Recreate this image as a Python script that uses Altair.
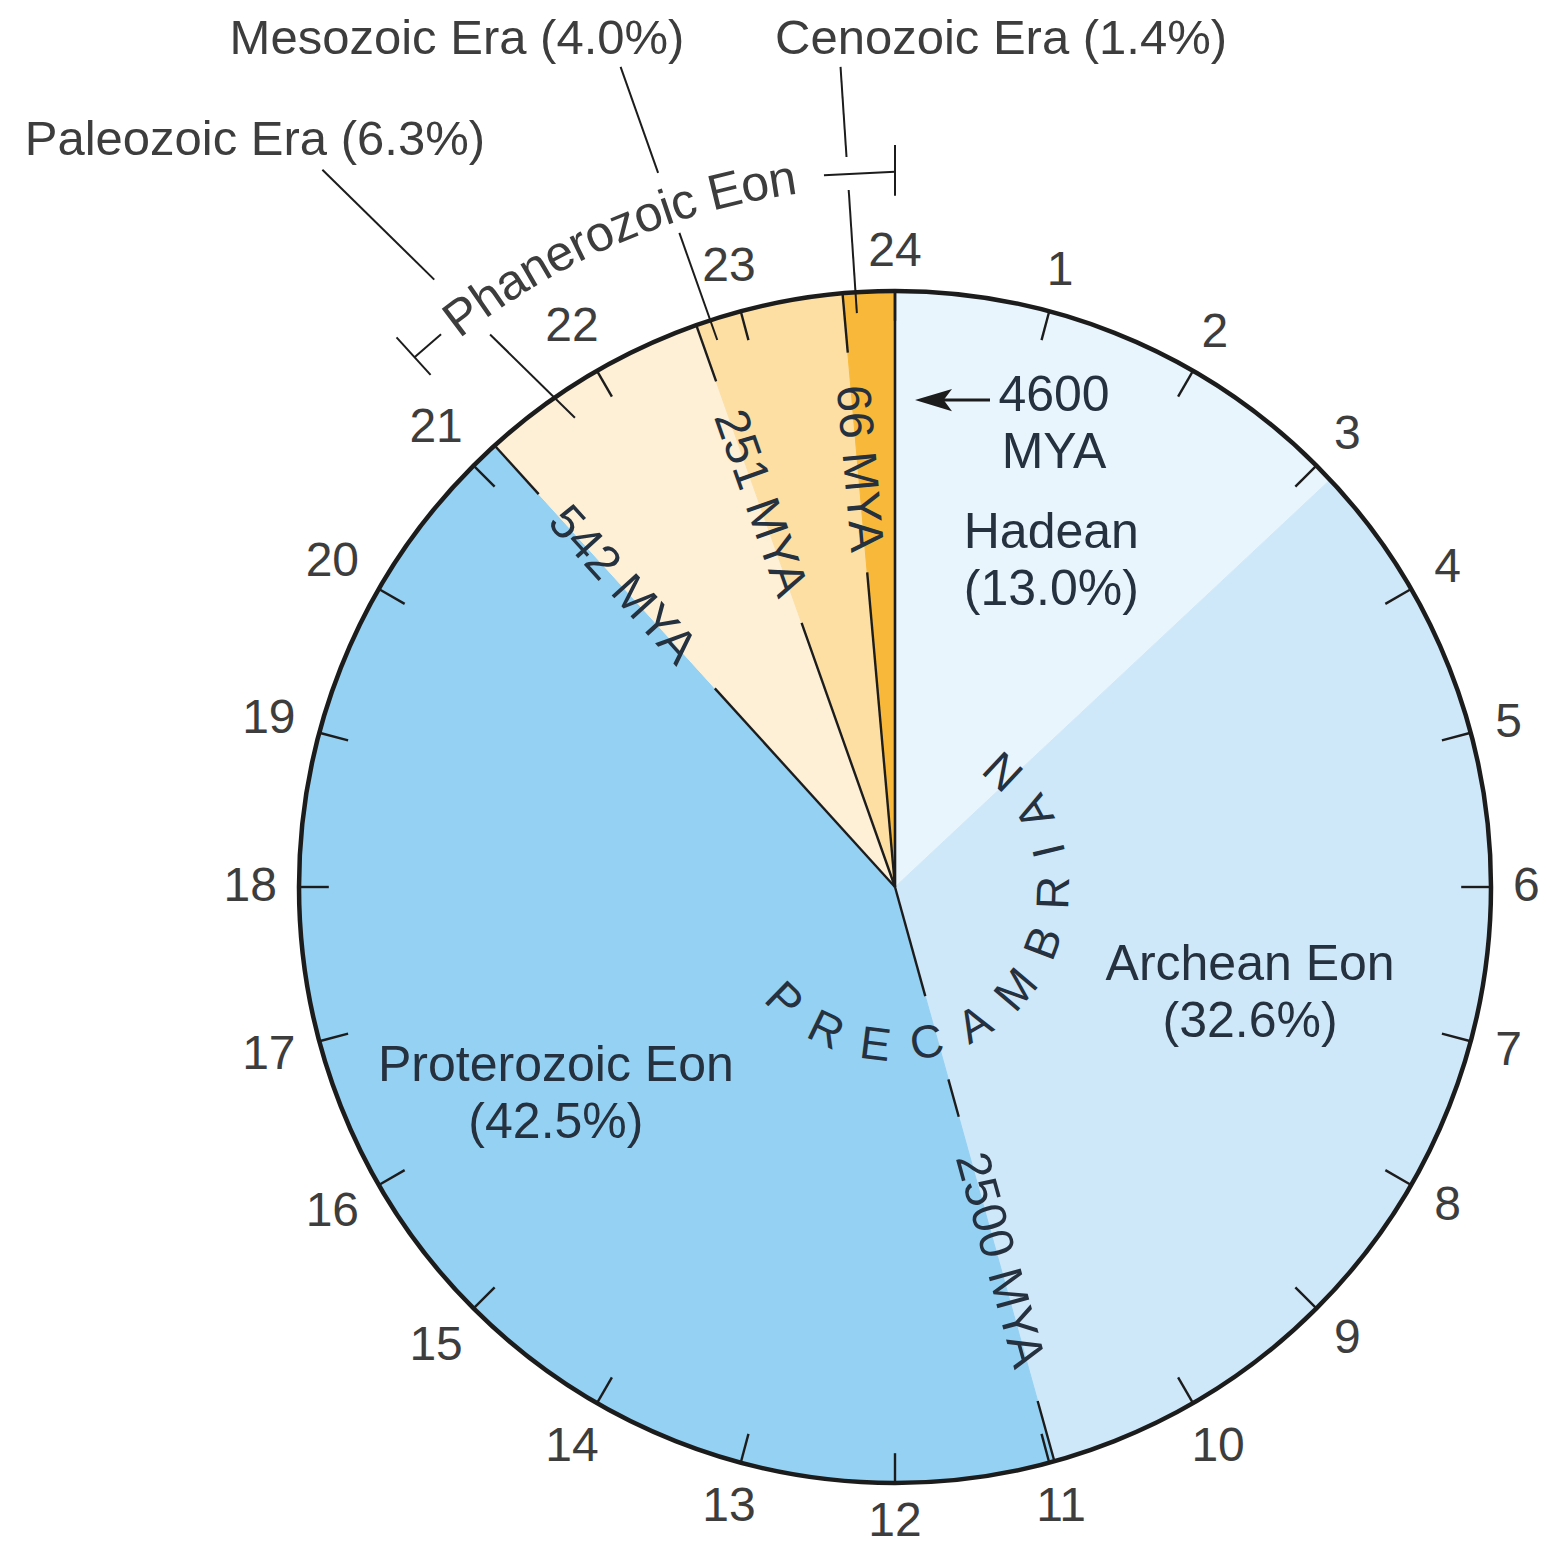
import math
import altair as alt
import pandas as pd

# ---------------- data ----------------
era_names = ["Hadean", "Archean Eon", "Proterozoic Eon", "Paleozoic Era", "Mesozoic Era", "Cenozoic Era"]
era_pcts = [13.0, 32.6, 42.5, 6.3, 4.0, 1.4]
era_colors = ["#e9f5fd", "#cfe8f9", "#95d1f3", "#fdf0d6", "#fddfa4", "#f8b93a"]
start_mya = 4600
boundary_mya = [2500, 542, 251, 66]   # ends of Archean, Proterozoic, Paleozoic, Mesozoic
hour_labels = [str(h) for h in range(1, 25)]
phanerozoic_label = "Phanerozoic Eon"
precambrian_label = "PRECAMBRIAN"

# ---------------- layout ----------------
PLOT_W, PLOT_H = 1534, 1532
R = 596.0
CX, CY = 887.0, 879.0
XMIN, XMAX = -CX / R, (PLOT_W - CX) / R
YMIN, YMAX = -(PLOT_H - CY) / R, CY / R
FONT = "Liberation Sans"
TXT_OUT = "#3d3d3d"
TXT_IN = "#25313e"
LINE = "#1c1c1c"
LH = 57  # line height of two-line labels, px

XS = alt.Scale(domain=[XMIN, XMAX], nice=False, zero=False)
YS = alt.Scale(domain=[YMIN, YMAX], nice=False, zero=False)


def pol(th, r):
    a = math.radians(th)
    return (r * math.sin(a), r * math.cos(a))


total = sum(era_pcts)
bounds = [0.0]
acc = 0.0
for p in era_pcts:
    acc += p
    bounds.append(acc / total * 360.0)

# ---------------- line segments ----------------
seg_rows = []


def add_seg(p0, p1, w):
    seg_rows.append(dict(x=p0[0], y=p0[1], x2=p1[0], y2=p1[1], w=w))


# top boundary (start of time)
add_seg(pol(0, 0), pol(0, 1), 2.6)
# labelled boundaries, interrupted where their labels sit
radial_pieces = [
    [(0, 0.19), (0.335, 0.40), (0.895, 1.0)],
    [(0, 0.45), (0.89, 1.0)],
    [(0, 0.47), (0.90, 1.0)],
    [(0, 0.53), (0.90, 1.0)],
]
for i, pcs in enumerate(radial_pieces):
    th = bounds[i + 2]
    for r0, r1 in pcs:
        add_seg(pol(th, r0), pol(th, r1), 2.4)

# hour ticks
for h in range(1, 25):
    add_seg(pol(15 * h, 0.95), pol(15 * h, 1.0), 2.4)

# leader lines from outer era labels
leaders = {
    3: ((321.4, 1.54), (325.7, 0.953), (0.443, 0.664)),
    4: ((341.5, 1.451), (342.0, 0.965), (0.388, 0.608)),
    5: ((356.2, 1.379), (356.2, 0.965), (0.366, 0.50)),
}
for k, (a0, a1, gap) in leaders.items():
    p0 = pol(*a0)
    p1 = pol(*a1)

    def lerp(t):
        return (p0[0] + t * (p1[0] - p0[0]), p0[1] + t * (p1[1] - p0[1]))

    add_seg(p0, lerp(gap[0]), 2.0)
    add_seg(lerp(gap[1]), p1, 2.0)

# Phanerozoic bracket
RB = 1.2
th_l = bounds[3]
add_seg(pol(th_l, 1.16), pol(th_l, 1.245), 2.0)
add_seg(pol(th_l, RB), pol(320.6, RB), 2.0)
add_seg(pol(354.3, RB), pol(360, RB), 2.0)
add_seg(pol(360, 1.16), pol(360, 1.245), 2.0)

# arrow to the start of time
ARROW_Y = 0.817
add_seg((0.080, ARROW_Y), (0.1594, ARROW_Y), 3.0)
df_head = pd.DataFrame({"x": [0.0646], "y": [ARROW_Y]})

df_seg = pd.DataFrame(seg_rows)

# ---------------- texts ----------------
txt = []


def add_txt(x, y, t, fs, c, a=0.0):
    # anchor multi-line blocks at their vertical middle
    n = t.count("\n") + 1
    y = y + (n - 1) / 2 * LH / R
    txt.append(dict(x=x, y=y, t=t, fs=fs, c=c, a=a % 360))


# labels inside slices
inside_pos = {0: (2.2, 0.606), 1: (1.0, 0.622), 2: (-2.6, 0.667)}
for i, (dth, r) in inside_pos.items():
    mid = (bounds[i] + bounds[i + 1]) / 2 + dth
    x, y = pol(mid, r)
    add_txt(x, y, f"{era_names[i]}\n({era_pcts[i]:.1f}%)", 50, TXT_IN)

# outer era labels
outer_pos = {3: (-1.074, 1.2534), 4: (-0.7349, 1.4225), 5: (0.1779, 1.4225)}
for i, (x, y) in outer_pos.items():
    add_txt(x, y, f"{era_names[i]} ({era_pcts[i]:.1f}%)", 49, TXT_OUT)

# start label
add_txt(0.2668, 0.776, f"{start_mya}\nMYA", 50, TXT_IN)

# hour labels
HFS = 48
for h, s in zip(range(1, 25), hour_labels):
    th = 15 * h
    a = math.radians(th)
    w = len(s) * 0.556 * HFS
    hh = 0.716 * HFS
    rpx = R + 22 + 0.5 * (abs(math.sin(a)) * w + abs(math.cos(a)) * hh)
    x, y = pol(th, rpx / R)
    add_txt(x, y, s, HFS, TXT_OUT)

# curved "Phanerozoic Eon"
wtab = {"P": .667, "h": .556, "a": .556, "n": .556, "e": .556, "r": .333, "o": .556,
        "z": .5, "i": .222, "c": .5, " ": .278, "E": .667}
PFS = 50
rpx = RB * R
tot_w = sum(wtab[ch] for ch in phanerozoic_label) * PFS
start = 336.8 - math.degrees(tot_w / 2 / rpx)
cum = 0.0
for ch in phanerozoic_label:
    w = wtab[ch] * PFS
    th = start + math.degrees((cum + w / 2) / rpx)
    cum += w
    if ch != " ":
        x, y = pol(th, RB)
        add_txt(x, y, ch, PFS, TXT_OUT, th)

# curved "PRECAMBRIAN"
ctab = {"P": .667, "R": .722, "E": .667, "C": .722, "A": .667, "M": .833, "B": .667,
        "I": .278, "N": .722}
CFS = 46
CR = 0.268
crpx = CR * R
SP = 20
centers = []
cum = 0.0
for j, ch in enumerate(precambrian_label):
    w = ctab[ch] * CFS
    if j > 0:
        cum += SP
    centers.append(cum + w / 2)
    cum += w
tot = cum
for ch, c in zip(precambrian_label, centers):
    th = 133.5 + math.degrees((tot / 2 - c) / crpx)
    x, y = pol(th, CR)
    add_txt(x, y, ch, CFS, TXT_IN, th + 180)

df_txt = pd.DataFrame(txt)

# radial boundary labels (left aligned)
ltxt = []
for i, mya in enumerate(boundary_mya):
    th = bounds[i + 2]
    if i == 0:
        x, y = pol(th, 0.465)
        ang = th - 90
    else:
        x, y = pol(th, 0.845)
        ang = th + 90
    ltxt.append(dict(x=x, y=y, t=f"{mya} MYA", fs=48, c=TXT_IN, a=ang % 360))
df_ltxt = pd.DataFrame(ltxt)

df_pie = pd.DataFrame({"era": era_names, "pct": era_pcts, "idx": list(range(len(era_names)))})

# ---------------- chart ----------------
xd = alt.XDatum(0, scale=XS, axis=None)
yd = alt.YDatum(0, scale=YS, axis=None)

pie = alt.Chart(df_pie).mark_arc(outerRadius=R, strokeWidth=1).encode(
    theta=alt.Theta("pct:Q", stack=True),
    order=alt.Order("idx:Q"),
    color=alt.Color("era:N", scale=alt.Scale(domain=era_names, range=era_colors), legend=None),
    stroke=alt.Stroke("era:N", scale=alt.Scale(domain=era_names, range=era_colors), legend=None),
    x=xd, y=yd,
)

outline = alt.Chart(pd.DataFrame({"k": [0]})).mark_arc(
    theta=0, theta2=2 * math.pi, outerRadius=R, fill="white", fillOpacity=0,
    stroke=LINE, strokeWidth=4.5,
).encode(x=xd, y=yd)

segs = alt.Chart(df_seg).mark_rule(color=LINE, strokeCap="butt").encode(
    x=alt.X("x:Q", scale=XS, axis=None),
    y=alt.Y("y:Q", scale=YS, axis=None),
    x2="x2:Q", y2="y2:Q",
    strokeWidth=alt.StrokeWidth("w:Q", scale=None),
)

head = alt.Chart(df_head).mark_point(
    shape="M-1,0L1,-0.6L0.55,0L1,0.6Z", filled=True, size=1369, color=LINE, opacity=1
).encode(
    x=alt.X("x:Q", scale=XS, axis=None),
    y=alt.Y("y:Q", scale=YS, axis=None),
)

texts = alt.Chart(df_txt).mark_text(
    font=FONT, align="center", baseline="middle", lineBreak="\n", lineHeight=LH
).encode(
    x=alt.X("x:Q", scale=XS, axis=None),
    y=alt.Y("y:Q", scale=YS, axis=None),
    text=alt.Text("t:N"),
    angle=alt.Angle("a:Q", scale=None),
    size=alt.Size("fs:Q", scale=None),
    color=alt.Color("c:N", scale=None),
)

ltexts = alt.Chart(df_ltxt).mark_text(font=FONT, align="left", baseline="middle").encode(
    x=alt.X("x:Q", scale=XS, axis=None),
    y=alt.Y("y:Q", scale=YS, axis=None),
    text=alt.Text("t:N"),
    angle=alt.Angle("a:Q", scale=None),
    size=alt.Size("fs:Q", scale=None),
    color=alt.Color("c:N", scale=None),
)

chart = alt.layer(pie, outline, segs, head, texts, ltexts).properties(
    width=PLOT_W, height=PLOT_H, padding=0
).configure_view(stroke=None)

chart.save("out.html", embed_options={"renderer": "svg", "actions": False})
